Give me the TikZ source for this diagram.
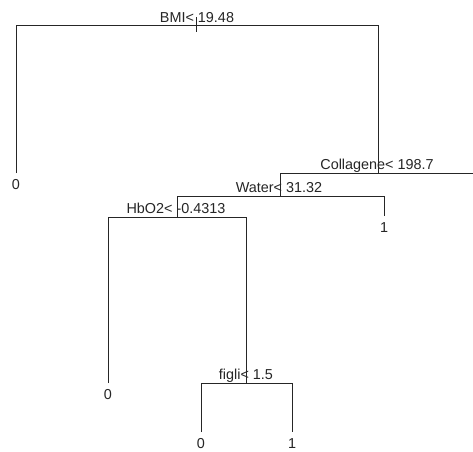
\documentclass[tikz,border=0pt]{standalone}
\usepackage{fontspec}
\setmainfont{Liberation Sans}
\begin{document}
\begin{tikzpicture}[x=1pt,y=-1pt,
  lbl/.style={font=\fontsize{14.4}{16}\selectfont, inner sep=0pt, anchor=base, text=black!85},
  edge/.style={line width=0.9pt, draw=black!85}]
\useasboundingbox (0,0) rectangle (473,451);
\fill[white] (0,0) rectangle (473,451);
\begin{scope}
\clip (0,0) rectangle (473,451);
% split coordinates
\coordinate (rootTop) at (196,17);
\coordinate (rootBot) at (196,32);
\coordinate (rootL) at (16,25);
\coordinate (rootR) at (378,25);
\coordinate (leafA) at (16,173);
\coordinate (colC) at (378,173);
\coordinate (colL) at (280,173);
\coordinate (colR) at (477,173);
\coordinate (leafB) at (477,194);
\coordinate (watC) at (280,196);
\coordinate (watL) at (177,196);
\coordinate (watR) at (384,196);
\coordinate (leafC) at (384,216);
\coordinate (hbC) at (177,217);
\coordinate (hbL) at (108,217);
\coordinate (hbR) at (246,217);
\coordinate (leafD) at (108,383);
\coordinate (fiC) at (246,383);
\coordinate (fiL) at (201,383);
\coordinate (fiR) at (292,383);
\coordinate (leafE) at (201,432);
\coordinate (leafF) at (292,432);
% connectors
\draw[edge] (rootTop) -- (rootBot);
\draw[edge] (leafA) -- (rootL) -- (rootR) -- (colC);
\draw[edge] (watC) -- (colL) -- (colR) -- (leafB);
\draw[edge] (hbC) -- (watL) -- (watR) -- (leafC);
\draw[edge] (leafD) -- (hbL) -- (hbR) -- (fiC);
\draw[edge] (leafE) -- (fiL) -- (fiR) -- (leafF);
% split labels
\node[lbl] (sBMI) at (197,22) {BMI< 19.48};
\node[lbl] (sCol) at (377,169) {Collagene< 198.7};
\node[lbl] (sWat) at (279,192) {Water< 31.32};
\node[lbl] (sHb) at (176,213) {HbO2< -0.4313};
\node[lbl] (sFi) at (246,379) {figli< 1.5};
% leaf labels
\node[lbl] (nA) at (16,189) {0};
\node[lbl] (nB) at (477,210) {1};
\node[lbl] (nC) at (384,232) {1};
\node[lbl] (nD) at (108,399) {0};
\node[lbl] (nE) at (201,448) {0};
\node[lbl] (nF) at (292,448) {1};
\end{scope}
\end{tikzpicture}
\end{document}
